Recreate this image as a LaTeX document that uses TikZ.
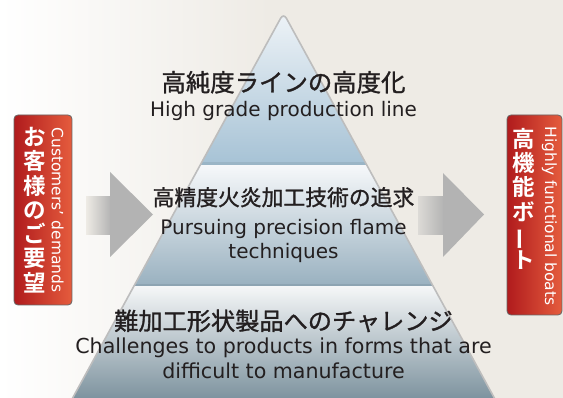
\documentclass[tikz,border=0pt]{standalone}
\usepackage{fontspec}
\usepackage{graphicx}
\setmainfont{DejaVu Sans}
\newfontfamily\jp{Noto Sans CJK JP}[BoldFont={Noto Sans CJK JP Bold}]
\newfontfamily\jpm{Noto Sans CJK JP}[FakeBold=1.2]
\definecolor{bgc}{HTML}{EEEBE5}
\definecolor{txt}{HTML}{231F20}
\definecolor{arrowgray}{HTML}{B3B3B3}
\definecolor{edgegray}{HTML}{BDBDBD}
\definecolor{redL}{HTML}{B01B1D}
\definecolor{redR}{HTML}{E55C3D}
\definecolor{aTop}{HTML}{EFF4F8}
\definecolor{aBot}{HTML}{A6C2D5}
\definecolor{bTop}{HTML}{F6F8FA}
\definecolor{bBot}{HTML}{98B0BF}
\definecolor{cTop}{HTML}{F4F6F7}
\definecolor{cBot}{HTML}{7A909C}
\begin{document}
\begin{tikzpicture}[x=1pt,y=-1pt,
  en/.style={font=\fontsize{20}{23}\selectfont, text=txt, inner sep=0pt, anchor=base},
  jptext/.style={text=txt, inner sep=0pt, anchor=base},
  redbox/.style={rounded corners=4pt, left color=redL, right color=redR, draw=black!60, line width=0.8pt},
  vjp/.style={font=\jp\bfseries\fontsize{22.5}{24.3}\selectfont, text=white, align=center, inner sep=0pt},
  ven/.style={font=\fontsize{15.5}{18}\selectfont, text=white, inner sep=0pt, anchor=base, rotate=-90},
  headfill/.style={fill=arrowgray}
]
\useasboundingbox (0,0) rectangle (563,398);
% background
\fill[bgc] (0,0) rectangle (563,398);
\shade[left color=white, right color=bgc] (0,0) rectangle (270,398);

% arrows
\shade[left color=bgc, right color=arrowgray] (86,197) rectangle (111,235);
\fill[headfill] (110,172) -- (153,214.5) -- (110,257) -- cycle;
\shade[left color=bgc!70!arrowgray, right color=arrowgray] (418,197) rectangle (444,235);
\fill[headfill] (443,173) -- (484,214.5) -- (443,257) -- cycle;

% pyramid
\coordinate (A) at (283.5,13);
\coordinate (BL) at (71,401);
\coordinate (BR) at (496,401);
\begin{scope}
  \clip[rounded corners=6pt] (BL) -- (A) -- (BR) -- cycle;
  \shade[top color=aTop, bottom color=aBot] (60,10) rectangle (510,165);
  \shade[top color=bTop, bottom color=bBot] (60,165) rectangle (510,287);
  \fill[bBot!93!black] (60,284.5) rectangle (510,287);
  \fill[aBot!93!black] (60,162.5) rectangle (510,165);
  \shade[top color=cTop, bottom color=cBot] (60,287) rectangle (510,402);
\end{scope}
\draw[edgegray, line width=1.6pt, rounded corners=6pt] (BL) -- (A) -- (BR);

% pyramid texts
\node[jptext, font=\jpm\fontsize{24.4}{26}\selectfont] (t1) at (283.5,91.5) {高純度ラインの高度化};
\node[en] (e1) at (283.5,116.7) {High grade production line};
\node[jptext, font=\jpm\fontsize{21.8}{24}\selectfont] (t2) at (283.5,205.5) {高精度火炎加工技術の追求};
\node[en] (e2a) at (283.5,235) {Pursuing precision flame};
\node[en] (e2b) at (283.5,258.3) {techniques};
\node[jptext, font=\jpm\fontsize{24.2}{26}\selectfont] (t3) at (283.5,330) {難加工形状製品へのチャレンジ};
\node[en, font=\fontsize{20.6}{23}\selectfont] (e3a) at (283.5,353.3) {Challenges to products in forms that are};
\node[en, font=\fontsize{20.6}{23}\selectfont] (e3b) at (283.5,378.3) {difficult to manufacture};

% left red box
\path[redbox] (14,115) rectangle (72,305);
\node[vjp] (lj) at (35,210) {お\\客\\様\\の\\ご\\要\\望};
\node[ven] (le) at (52,210) {Customers’ demands};

% right red box
\path[redbox] (507,115) rectangle (562,315);
\node[vjp] (rj) at (523.5,199) {高\\機\\能\\ボ\\\rotatebox[origin=c]{90}{ー}\\ト};
\node[ven] (re) at (545,216) {Highly functional boats};
\end{tikzpicture}
\end{document}
